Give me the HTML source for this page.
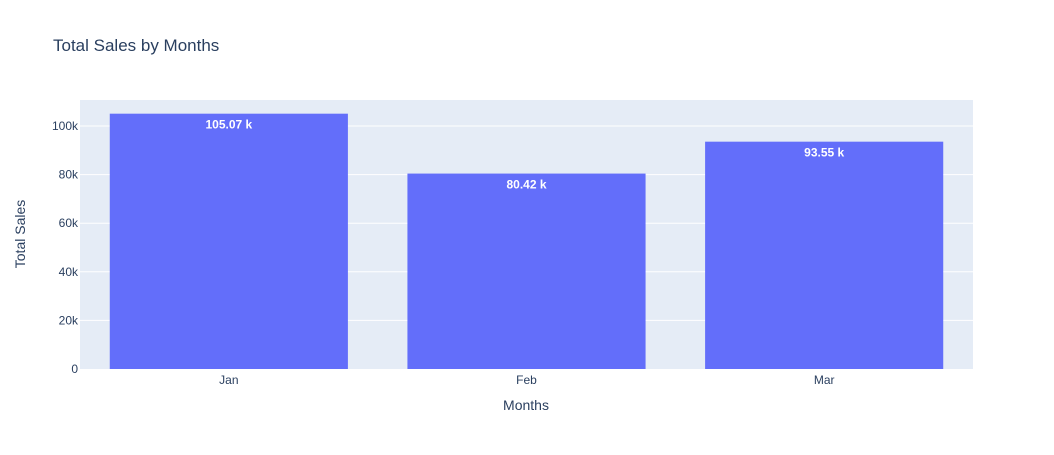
<!DOCTYPE html>
<html><head><meta charset="utf-8"><style>
body{margin:0;background:#fff;font-family:"Liberation Sans",Arial,sans-serif}
svg text{font-family:"Liberation Sans",Arial,sans-serif}
</style></head><body>
<svg id="chart" width="1054" height="450" xmlns="http://www.w3.org/2000/svg">
<rect width="1054" height="450" fill="#fff"/>
<text x="53" y="51" font-size="17" fill="#2a3f5f">Total Sales by Months</text>
<rect x="80" y="100" width="893" height="269" fill="#e5ecf6"/>
<g id="grid"></g><g id="bars"></g><g id="labels"></g><g id="ticks"></g>
<text x="526" y="410" font-size="14" fill="#2a3f5f" text-anchor="middle">Months</text>
<text transform="translate(25,234) rotate(-90)" font-size="14" fill="#2a3f5f" text-anchor="middle">Total Sales</text>
</svg>
<script>
const categories=["Jan","Feb","Mar"];
const sales=[105070,80420,93550];
const valueLabels=["105.07 k","80.42 k","93.55 k"];
const yTicks=[0,20000,40000,60000,80000,100000];
const yTickLabels=["0","20k","40k","60k","80k","100k"];
const NS="http://www.w3.org/2000/svg";
const X0=80,W=893,Y0=369,H=269,YMAX=110700;
const y=v=>Y0-v/YMAX*H;
const band=W/categories.length;
const xc=i=>X0+band*(i+0.5);
function mk(t,a,p,txt){const e=document.createElementNS(NS,t);for(const k in a)e.setAttribute(k,a[k]);if(txt!==undefined)e.textContent=txt;document.getElementById(p).appendChild(e);return e;}
yTicks.forEach((t,i)=>{
 if(t>0){const g=mk("line",{x1:X0,x2:X0+W,y1:y(t),y2:y(t),stroke:"#fff","stroke-width":1},"grid");
 
 }
 const l=mk("text",{x:X0-2,y:y(t)+4,"font-size":12,fill:"#2a3f5f","text-anchor":"end"},"ticks",yTickLabels[i]);
 
 
});
categories.forEach((c,i)=>{
 const bw=band*0.8;
 const b=mk("rect",{x:xc(i)-bw/2,y:y(sales[i]),width:bw,height:Y0-y(sales[i]),fill:"#636efa"},"bars");
 
 
 const v=mk("text",{x:xc(i),y:y(sales[i])+15,"font-size":12,"font-weight":"bold",fill:"#fff","text-anchor":"middle"},"labels",valueLabels[i]);
 
 
 const t=mk("text",{x:xc(i),y:Y0+15,"font-size":12,fill:"#2a3f5f","text-anchor":"middle"},"ticks",c);
 
 
});
</script>
</body></html>
